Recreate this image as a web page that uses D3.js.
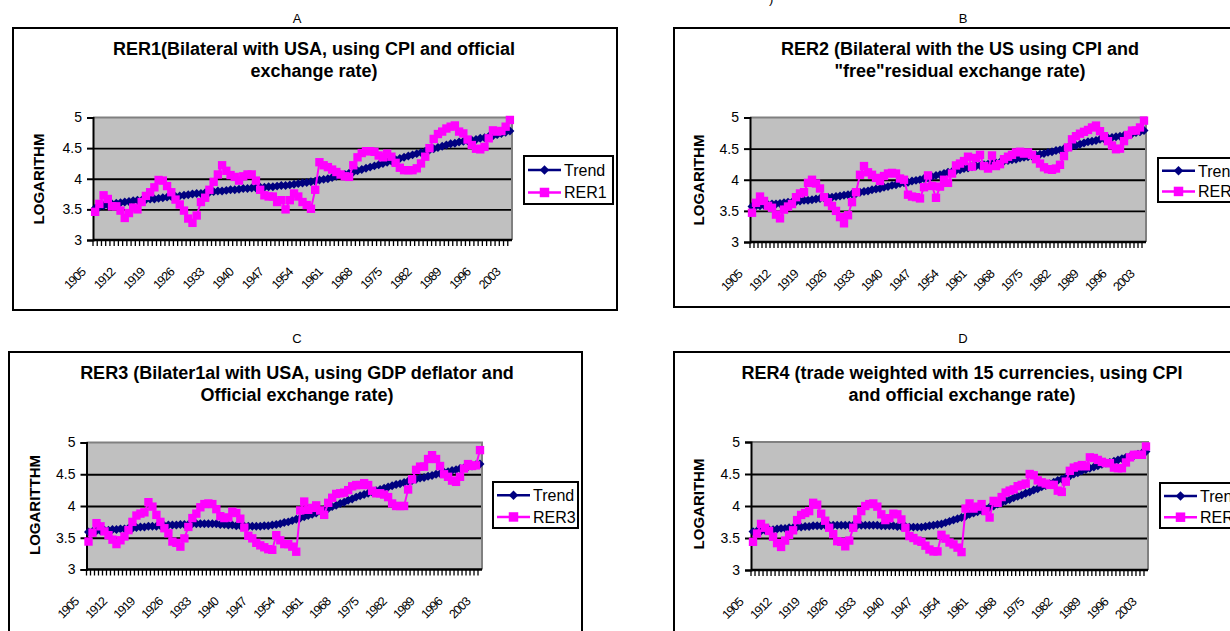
<!DOCTYPE html>
<html>
<head>
<meta charset="utf-8">
<script src="https://cdn.jsdelivr.net/npm/d3@7"></script>
<style>
  body { margin: 0; background: #fff; }
  svg { display: block; }
  text { font-family: "Liberation Sans", Arial, sans-serif; fill: #000; }
</style>
</head>
<body>
<svg id="chart" width="1230" height="631"></svg>
<script>
// categories
const years = d3.range(1905, 2004);
const xTickLabels = ["1905", "1912", "1919", "1926", "1933", "1940", "1947", "1954",
  "1961", "1968", "1975", "1982", "1989", "1996", "2003"];
const yTicks = [3, 3.5, 4, 4.5, 5];

// series values (log scale), 1905..2003
const rer1 = [3.46, 3.59, 3.73, 3.67, 3.55, 3.55, 3.48, 3.36, 3.44, 3.53,
  3.50, 3.62, 3.72, 3.78, 3.86, 3.98, 3.97, 3.88, 3.78, 3.66,
  3.58, 3.48, 3.35, 3.28, 3.40, 3.62, 3.69, 3.82, 3.95, 4.07,
  4.22, 4.13, 4.06, 4.03, 3.97, 4.04, 4.07, 4.07, 3.97, 3.82,
  3.73, 3.71, 3.71, 3.62, 3.65, 3.50, 3.65, 3.76, 3.71, 3.62,
  3.57, 3.51, 3.82, 4.27, 4.22, 4.19, 4.15, 4.11, 4.07, 4.04,
  4.03, 4.22, 4.35, 4.42, 4.45, 4.45, 4.44, 4.38, 4.35, 4.41,
  4.36, 4.26, 4.18, 4.14, 4.14, 4.14, 4.17, 4.25, 4.36, 4.50,
  4.65, 4.73, 4.77, 4.82, 4.85, 4.87, 4.77, 4.74, 4.64, 4.55,
  4.49, 4.48, 4.52, 4.66, 4.79, 4.77, 4.78, 4.85, 4.96];
const trend1 = [3.52, 3.54, 3.56, 3.57, 3.59, 3.60, 3.61, 3.62, 3.63, 3.64,
  3.65, 3.65, 3.66, 3.67, 3.67, 3.68, 3.69, 3.70, 3.71, 3.71,
  3.72, 3.73, 3.74, 3.75, 3.76, 3.76, 3.77, 3.78, 3.79, 3.80,
  3.80, 3.81, 3.82, 3.82, 3.83, 3.84, 3.84, 3.85, 3.85, 3.86,
  3.86, 3.87, 3.87, 3.88, 3.89, 3.89, 3.90, 3.91, 3.92, 3.93,
  3.94, 3.95, 3.96, 3.98, 3.99, 4.00, 4.02, 4.04, 4.06, 4.07,
  4.09, 4.11, 4.13, 4.15, 4.17, 4.19, 4.21, 4.23, 4.25, 4.27,
  4.29, 4.31, 4.33, 4.35, 4.37, 4.39, 4.41, 4.43, 4.45, 4.47,
  4.49, 4.51, 4.53, 4.55, 4.57, 4.58, 4.60, 4.61, 4.62, 4.63,
  4.64, 4.66, 4.67, 4.69, 4.70, 4.72, 4.74, 4.76, 4.78];

const rer2 = [3.47, 3.63, 3.73, 3.66, 3.58, 3.55, 3.44, 3.38, 3.52, 3.57,
  3.61, 3.72, 3.78, 3.80, 3.95, 4.00, 3.94, 3.86, 3.72, 3.64,
  3.58, 3.50, 3.40, 3.30, 3.43, 3.64, 3.80, 4.08, 4.22, 4.12,
  4.08, 4.03, 3.98, 4.06, 4.10, 4.11, 4.10, 4.02, 4.00, 3.76,
  3.73, 3.72, 3.70, 3.88, 4.07, 3.90, 3.71, 3.89, 4.00, 3.95,
  4.10, 4.23, 4.26, 4.30, 4.37, 4.21, 4.35, 4.40, 4.22, 4.18,
  4.39, 4.22, 4.25, 4.33, 4.37, 4.40, 4.44, 4.45, 4.42, 4.44,
  4.40, 4.33, 4.26, 4.20, 4.17, 4.16, 4.18, 4.24, 4.38, 4.52,
  4.65, 4.70, 4.74, 4.77, 4.80, 4.84, 4.87, 4.78, 4.70, 4.62,
  4.55, 4.49, 4.50, 4.62, 4.72, 4.79, 4.79, 4.84, 4.95];
const trend2 = [3.57, 3.58, 3.58, 3.59, 3.60, 3.61, 3.61, 3.62, 3.63, 3.64,
  3.64, 3.65, 3.66, 3.67, 3.67, 3.68, 3.69, 3.70, 3.71, 3.72,
  3.72, 3.73, 3.74, 3.75, 3.76, 3.77, 3.78, 3.80, 3.81, 3.82,
  3.84, 3.85, 3.86, 3.88, 3.89, 3.91, 3.92, 3.94, 3.95, 3.96,
  3.98, 3.99, 4.00, 4.02, 4.03, 4.05, 4.07, 4.08, 4.10, 4.12,
  4.13, 4.15, 4.16, 4.18, 4.19, 4.21, 4.22, 4.23, 4.24, 4.25,
  4.26, 4.27, 4.28, 4.30, 4.31, 4.32, 4.33, 4.35, 4.36, 4.37,
  4.38, 4.40, 4.41, 4.42, 4.44, 4.45, 4.47, 4.48, 4.50, 4.52,
  4.54, 4.55, 4.57, 4.59, 4.61, 4.62, 4.63, 4.65, 4.66, 4.67,
  4.68, 4.69, 4.70, 4.71, 4.72, 4.74, 4.76, 4.77, 4.79];

const rer3 = [3.44, 3.58, 3.73, 3.68, 3.60, 3.54, 3.47, 3.40, 3.46, 3.52,
  3.62, 3.75, 3.85, 3.88, 3.90, 4.06, 3.99, 3.86, 3.75, 3.65,
  3.57, 3.44, 3.42, 3.36, 3.49, 3.67, 3.81, 3.88, 3.98, 4.03,
  4.04, 4.03, 3.95, 3.84, 3.81, 3.82, 3.91, 3.89, 3.80, 3.66,
  3.53, 3.49, 3.42, 3.38, 3.35, 3.32, 3.31, 3.54, 3.46, 3.40,
  3.40, 3.36, 3.28, 3.93, 4.07, 3.94, 3.97, 4.01, 3.93, 3.86,
  4.05, 4.13, 4.19, 4.20, 4.21, 4.25, 4.31, 4.33, 4.33, 4.36,
  4.33, 4.24, 4.20, 4.20, 4.18, 4.14, 4.04, 4.00, 4.00, 4.00,
  4.26, 4.42, 4.57, 4.62, 4.62, 4.74, 4.80, 4.74, 4.63, 4.50,
  4.46, 4.40, 4.38, 4.46, 4.59, 4.66, 4.63, 4.64, 4.88];
const trend3 = [3.59, 3.60, 3.61, 3.61, 3.62, 3.62, 3.63, 3.63, 3.64, 3.64,
  3.65, 3.65, 3.66, 3.67, 3.67, 3.68, 3.68, 3.68, 3.69, 3.69,
  3.70, 3.70, 3.70, 3.71, 3.71, 3.71, 3.72, 3.72, 3.72, 3.72,
  3.72, 3.72, 3.72, 3.71, 3.71, 3.70, 3.70, 3.69, 3.69, 3.68,
  3.68, 3.68, 3.68, 3.68, 3.69, 3.69, 3.70, 3.71, 3.72, 3.74,
  3.75, 3.77, 3.79, 3.81, 3.83, 3.85, 3.87, 3.89, 3.92, 3.94,
  3.96, 3.99, 4.01, 4.04, 4.06, 4.09, 4.11, 4.14, 4.16, 4.18,
  4.20, 4.22, 4.24, 4.26, 4.28, 4.30, 4.32, 4.34, 4.35, 4.37,
  4.39, 4.40, 4.42, 4.44, 4.45, 4.47, 4.48, 4.50, 4.51, 4.53,
  4.54, 4.56, 4.57, 4.59, 4.60, 4.62, 4.63, 4.65, 4.66];

const rer4 = [3.44, 3.57, 3.72, 3.66, 3.61, 3.52, 3.42, 3.36, 3.46, 3.55,
  3.62, 3.78, 3.86, 3.89, 3.92, 4.05, 4.02, 3.88, 3.77, 3.66,
  3.56, 3.45, 3.44, 3.37, 3.46, 3.66, 3.79, 3.92, 4.00, 4.03,
  4.04, 3.99, 3.87, 3.78, 3.81, 3.88, 3.87, 3.79, 3.66, 3.53,
  3.50, 3.46, 3.44, 3.38, 3.32, 3.29, 3.29, 3.55, 3.49, 3.43,
  3.40, 3.35, 3.28, 3.96, 4.04, 3.96, 3.99, 4.03, 3.92, 3.82,
  4.08, 4.05, 4.14, 4.21, 4.24, 4.26, 4.31, 4.33, 4.35, 4.50,
  4.48, 4.40, 4.37, 4.35, 4.33, 4.33, 4.24, 4.22, 4.38, 4.55,
  4.60, 4.62, 4.64, 4.62, 4.76, 4.75, 4.72, 4.69, 4.67, 4.67,
  4.60, 4.59, 4.59, 4.68, 4.76, 4.80, 4.80, 4.80, 4.93];
const trend4 = [3.60, 3.61, 3.61, 3.62, 3.63, 3.63, 3.64, 3.65, 3.65, 3.66,
  3.66, 3.67, 3.67, 3.68, 3.68, 3.69, 3.69, 3.69, 3.70, 3.70,
  3.70, 3.70, 3.70, 3.70, 3.70, 3.70, 3.70, 3.70, 3.70, 3.70,
  3.70, 3.70, 3.69, 3.69, 3.69, 3.69, 3.68, 3.68, 3.68, 3.67,
  3.67, 3.67, 3.67, 3.68, 3.69, 3.70, 3.71, 3.72, 3.74, 3.76,
  3.78, 3.80, 3.82, 3.84, 3.87, 3.89, 3.91, 3.93, 3.95, 3.98,
  4.00, 4.03, 4.05, 4.08, 4.10, 4.13, 4.15, 4.17, 4.20, 4.22,
  4.25, 4.27, 4.30, 4.32, 4.35, 4.37, 4.40, 4.42, 4.45, 4.47,
  4.50, 4.52, 4.55, 4.57, 4.59, 4.61, 4.63, 4.65, 4.67, 4.68,
  4.70, 4.72, 4.74, 4.76, 4.77, 4.79, 4.81, 4.83, 4.85];

// layout of the four charts
const panels = [
  { letter: "A", letterPos: [297, 23], box: [13, 28, 604, 282],
    title: ["RER1(Bilateral with USA, using CPI and official", "exchange rate)"], titlePos: [314, 55],
    yTitle: "LOGARITHM", yTitlePos: [44, 179],
    plot: [93, 117.5, 512, 240], legend: [524, 156, 89, 48],
    name: "RER1", rer: rer1, trend: trend1 },
  { letter: "B", letterPos: [963, 23], box: [674, 28, 600, 279],
    title: ["RER2 (Bilateral with the US using CPI and", "\"free\"residual exchange rate)"], titlePos: [960, 55],
    yTitle: "LOGARITHM", yTitlePos: [704, 180],
    plot: [750, 117.5, 1146, 242], legend: [1158, 158, 89, 44],
    name: "RER2", rer: rer2, trend: trend2 },
  { letter: "C", letterPos: [297, 343], box: [9, 352, 573, 300],
    title: ["RER3 (Bilater1al with USA, using GDP deflator and", "Official exchange rate)"], titlePos: [297, 379],
    yTitle: "LOGARITTHM", yTitlePos: [40, 505],
    plot: [86.5, 442.5, 482, 569.5], legend: [493, 482, 85, 46],
    name: "RER3", rer: rer3, trend: trend3 },
  { letter: "D", letterPos: [963, 343], box: [674, 352, 600, 300],
    title: ["RER4 (trade weighted with 15 currencies, using CPI", "and official exchange rate)"], titlePos: [962, 379],
    yTitle: "LOGARITHM", yTitlePos: [704, 504],
    plot: [751, 442, 1148, 570], legend: [1160, 483, 89, 45],
    name: "RER4", rer: rer4, trend: trend4 }
];

const navy = "#000080", magenta = "#ff00ff";
const svg = d3.select("#chart");

// fragment of a caption line cut at the top of the page
svg.append("text").attr("x", 769).attr("y", 3).style("font-size", "13px").text(")");

const diamond = d3.symbol().type(d3.symbolSquare).size(40);
const square = d3.symbol().type(d3.symbolSquare).size(70);
const legDiamond = d3.symbol().type(d3.symbolSquare).size(45);
const legSquare = d3.symbol().type(d3.symbolSquare).size(90);

function drawPanel(p) {
  const g = svg.append("g");
  const [px0, py0, px1, py1] = p.plot;

  g.append("text")
    .attr("x", p.letterPos[0]).attr("y", p.letterPos[1])
    .attr("text-anchor", "middle")
    .style("font-size", "13px")
    .text(p.letter);

  g.append("rect")
    .attr("x", p.box[0]).attr("y", p.box[1])
    .attr("width", p.box[2]).attr("height", p.box[3])
    .attr("fill", "#fff").attr("stroke", "#000").attr("stroke-width", 2);

  p.title.forEach((t, i) => {
    g.append("text")
      .attr("x", p.titlePos[0]).attr("y", p.titlePos[1] + i * 22)
      .attr("text-anchor", "middle")
      .style("font-size", "18px").style("font-weight", "bold")
      .text(t);
  });

  const x = d3.scaleBand().domain(years).range([px0, px1]);
  const y = d3.scaleLinear().domain([3, 5]).range([py1, py0]);
  const bw = x.bandwidth();
  const cx = (d, i) => x(years[i]) + bw / 2;

  // plot area
  g.append("rect")
    .attr("x", px0).attr("y", py0)
    .attr("width", px1 - px0).attr("height", py1 - py0)
    .attr("fill", "#c0c0c0");

  // gridlines
  g.append("g")
    .attr("transform", `translate(${px0},0)`)
    .call(d3.axisLeft(y).tickValues(yTicks.slice(1, 4)).tickSize(-(px1 - px0)).tickFormat(""))
    .call(a => a.select(".domain").remove())
    .call(a => a.selectAll("line").attr("stroke", "#000").attr("stroke-width", 1.8));

  // top and right border of plot area
  g.append("path")
    .attr("d", `M${px0},${py0}H${px1}V${py1}`)
    .attr("fill", "none").attr("stroke", "#808080").attr("stroke-width", 2);

  // y axis
  g.append("g")
    .attr("transform", `translate(${px0},0)`)
    .call(d3.axisLeft(y).tickValues(yTicks).tickSize(6).tickPadding(5).tickFormat(d3.format("")))
    .call(a => a.select(".domain").attr("stroke", "#000").attr("stroke-width", 2))
    .call(a => a.selectAll(".tick line").attr("stroke", "#000").attr("stroke-width", 2))
    .call(a => a.selectAll("text")
      .style("font-size", "14px").style("font-family", "'Liberation Sans', Arial, sans-serif")
      .attr("fill", "#000"));

  // x axis: tick marks between categories
  g.append("g")
    .attr("transform", `translate(${-bw / 2},${py1})`)
    .call(d3.axisBottom(x).tickSize(6).tickFormat(""))
    .call(a => a.select(".domain").remove())
    .call(a => a.selectAll(".tick line").attr("stroke", "#000").attr("stroke-width", 1.3));
  g.append("line")
    .attr("x1", px0).attr("x2", px1).attr("y1", py1).attr("y2", py1)
    .attr("stroke", "#000").attr("stroke-width", 2.5);

  // rotated category labels
  g.selectAll("text.xlab")
    .data(xTickLabels)
    .enter()
    .append("text")
    .attr("class", "xlab")
    .attr("text-anchor", "end")
    .attr("transform", d => `translate(${x(+d) + bw / 2 - 9},${py1 + 33}) rotate(-45)`)
    .style("font-size", "12.5px")
    .style("letter-spacing", "-1px")
    .text(d => d);

  // axis title
  g.append("text")
    .attr("transform", `translate(${p.yTitlePos[0]},${p.yTitlePos[1]}) rotate(-90)`)
    .attr("text-anchor", "middle")
    .style("font-size", "15px").style("font-weight", "bold")
    .text(p.yTitle);

  // trend series
  const line = d3.line().x(cx).y(d => y(d));
  g.append("path").datum(p.trend)
    .attr("d", line).attr("fill", "none")
    .attr("stroke", navy).attr("stroke-width", 3);
  g.selectAll("path.dia").data(p.trend).enter().append("path")
    .attr("class", "dia")
    .attr("d", diamond)
    .attr("transform", (d, i) => `translate(${cx(d, i)},${y(d)}) rotate(45)`)
    .attr("fill", navy);

  // RER series
  g.append("path").datum(p.rer)
    .attr("d", line).attr("fill", "none")
    .attr("stroke", magenta).attr("stroke-width", 2);
  g.selectAll("path.sq").data(p.rer).enter().append("path")
    .attr("class", "sq")
    .attr("d", square)
    .attr("transform", (d, i) => `translate(${cx(d, i)},${y(d)})`)
    .attr("fill", magenta);

  // legend
  const [lx, ly, lw, lh] = p.legend;
  const lg = g.append("g");
  lg.append("rect")
    .attr("x", lx).attr("y", ly).attr("width", lw).attr("height", lh)
    .attr("fill", "#fff").attr("stroke", "#000").attr("stroke-width", 2);
  const rows = [
    { label: "Trend", color: navy, sym: legDiamond, rot: 45, dy: lh * 0.29 },
    { label: p.name, color: magenta, sym: legSquare, rot: 0, dy: lh * 0.76 }
  ];
  rows.forEach(r => {
    const ry = ly + r.dy;
    lg.append("line")
      .attr("x1", lx + 4).attr("x2", lx + 37).attr("y1", ry).attr("y2", ry)
      .attr("stroke", r.color).attr("stroke-width", 2.5);
    lg.append("path")
      .attr("d", r.sym)
      .attr("transform", `translate(${lx + 20.5},${ry}) rotate(${r.rot})`)
      .attr("fill", r.color);
    lg.append("text")
      .attr("x", lx + 40).attr("y", ry + 6)
      .style("font-size", "16px")
      .text(r.label);
  });
}

panels.forEach(drawPanel);
</script>
</body>
</html>
